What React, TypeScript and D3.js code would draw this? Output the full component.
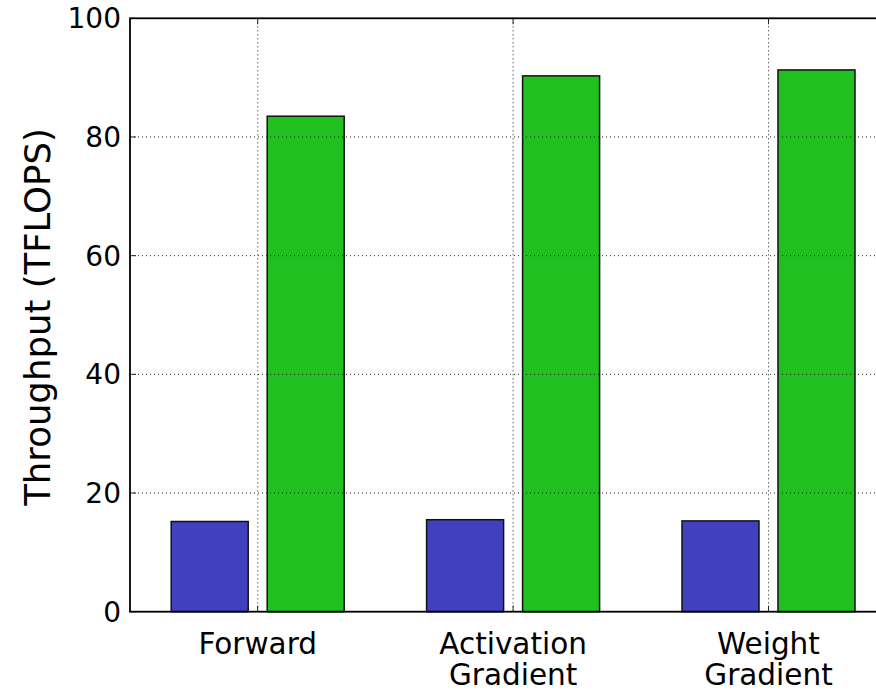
import React from "react";
import * as d3 from "d3";

const categories = ["Forward", "Activation\nGradient", "Weight\nGradient"];
const seriesNames = ["baseline", "optimized"];
const blueValues = [15.2, 15.5, 15.3];
const greenValues = [83.5, 90.3, 91.3];
const yTicks = [0, 20, 40, 60, 80, 100];
const colors = ["#4141c0", "#21c021"];

const W = 876;
const H = 694;
const left = 130;
const top = 18.3;
const bottom = 611.7;
const step = 255.4;

export default function App() {
  const x = d3
    .scaleBand<string>()
    .domain(categories)
    .range([left, left + step * categories.length])
    .padding(0);
  const inner = d3
    .scaleBand<string>()
    .domain(seriesNames)
    .range([-86.5, 86.5])
    .paddingInner(0.198)
    .paddingOuter(0);
  const y = d3.scaleLinear().domain([0, 100]).range([bottom, top]);
  const series = [blueValues, greenValues];
  const right = left + step * categories.length;
  const font = "DejaVu Sans, sans-serif";

  return (
    <svg
      width={W}
      height={H}
      style={{ position: "absolute", left: 0, top: 0, background: "#fff" }}
    >
      {series.map((vals, si) =>
        categories.map((c, ci) => {
          const cx = (x(c) as number) + x.bandwidth() / 2;
          const bx = cx + (inner(seriesNames[si]) as number);
          return (
            <rect
              key={`${si}-${ci}`}
              x={bx}
              y={y(vals[ci])}
              width={inner.bandwidth()}
              height={y(0) - y(vals[ci])}
              fill={colors[si]}
              stroke="#111"
              strokeWidth={1.5}
            />
          );
        })
      )}
      {yTicks
        .filter((t) => t > 0 && t < 100)
        .map((t) => (
          <line
            key={`gy${t}`}
            x1={left}
            x2={right}
            y1={y(t)}
            y2={y(t)}
            stroke="#222"
            strokeWidth={1}
            strokeDasharray="1,3"
          />
        ))}
      {categories.map((c) => {
        const cx = (x(c) as number) + x.bandwidth() / 2;
        return (
          <g key={`gx${c}`}>
            <line
              x1={cx}
              x2={cx}
              y1={top}
              y2={bottom}
              stroke="#222"
              strokeWidth={1}
              strokeDasharray="1,3"
            />
            <line x1={cx} x2={cx} y1={bottom} y2={bottom - 6} stroke="#222" strokeWidth={1} />
            <line x1={cx} x2={cx} y1={top} y2={top + 6} stroke="#222" strokeWidth={1} />
          </g>
        );
      })}
      {yTicks.map((t) => (
        <g key={`yt${t}`}>
          <line x1={left} x2={left + 6} y1={y(t)} y2={y(t)} stroke="#222" strokeWidth={1} />
          <text
            x={left - 9}
            y={y(t)}
            dy="0.36em"
            textAnchor="end"
            fontFamily={font}
            fontSize={28}
            fill="#000"
          >
            {t}
          </text>
        </g>
      ))}
      <rect
        x={left}
        y={top}
        width={right - left}
        height={bottom - top}
        fill="none"
        stroke="#000"
        strokeWidth={1.8}
      />
      {categories.map((c) => {
        const cx = (x(c) as number) + x.bandwidth() / 2;
        const lines = c.split("\n");
        return (
          <text
            key={`xl${c}`}
            x={cx}
            y={654}
            textAnchor="middle"
            fontFamily={font}
            fontSize={29.5}
            fill="#000"
          >
            {lines.map((l, i) => (
              <tspan key={i} x={cx} dy={i === 0 ? 0 : 31}>
                {l}
              </tspan>
            ))}
          </text>
        );
      })}
      <text
        transform={`translate(50,${(top + bottom) / 2 + 2}) rotate(-90)`}
        textAnchor="middle"
        fontFamily={font}
        fontSize={35.5}
        fill="#000"
      >
        Throughput (TFLOPS)
      </text>
    </svg>
  );
}
